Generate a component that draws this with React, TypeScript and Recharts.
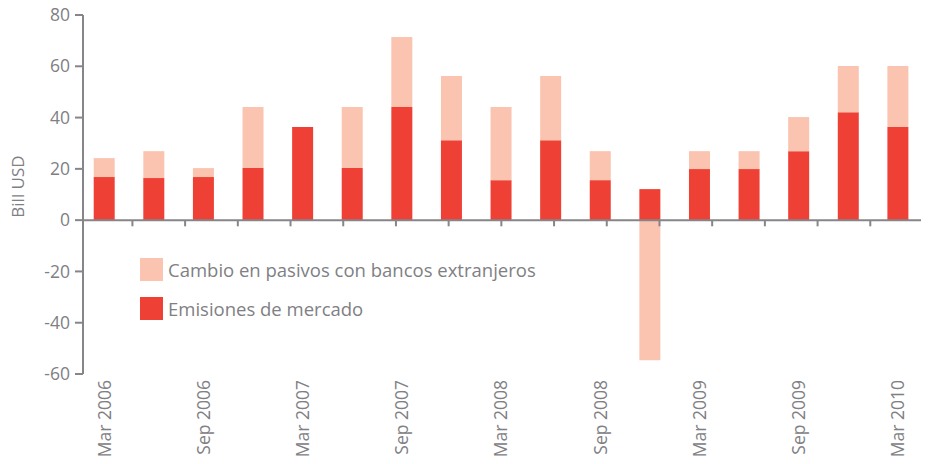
import React from 'react';
import { BarChart, Bar, XAxis, YAxis, ReferenceLine, Legend } from 'recharts';

const categories = [
  'Mar 2006', 'Jun 2006', 'Sep 2006', 'Dec 2006',
  'Mar 2007', 'Jun 2007', 'Sep 2007', 'Dec 2007',
  'Mar 2008', 'Jun 2008', 'Sep 2008', 'Dec 2008',
  'Mar 2009', 'Jun 2009', 'Sep 2009', 'Dec 2009',
  'Mar 2010',
];
const shownLabels = [
  'Mar 2006', 'Sep 2006', 'Mar 2007', 'Sep 2007', 'Mar 2008',
  'Sep 2008', 'Mar 2009', 'Sep 2009', 'Mar 2010',
];
const emisiones = [16.8, 16.4, 16.8, 20.3, 36.3, 20.3, 44.1, 31.2, 15.6, 31.2, 15.6, 12.1, 19.9, 19.9, 26.9, 42.1, 36.3];
const cambio = [7.4, 10.5, 3.5, 23.8, 0, 23.8, 27.3, 25.0, 28.5, 25.0, 11.3, -54.6, 7.0, 7.0, 13.3, 18.0, 23.8];
const yTicks = [-60, -40, -20, 0, 20, 40, 60, 80];
const seriesNames = ['Cambio en pasivos con bancos extranjeros', 'Emisiones de mercado'];

const RED = '#EE4035';
const PINK = '#FAC4B1';
const GREY = '#808084';
const AXIS = '#86868a';
const FONT = "'Open Sans', sans-serif";

const data = categories.map((c, i) => ({ cat: c, emisiones: emisiones[i], cambio: cambio[i] }));
const boundaries = categories.map((_, i) => i + 1);

const XTick = (props: any) => {
  const { x, y, payload } = props;
  if (!shownLabels.includes(payload.value)) return <g />;
  return (
    <text
      x={x}
      y={y}
      transform={`rotate(-90, ${x}, ${y})`}
      textAnchor="end"
      dy="0.35em"
      fill={GREY}
      fontSize={17.5}
      fontFamily={FONT}
    >
      {payload.value}
    </text>
  );
};

const LegendContent = (props: any) => {
  const payload = [...(props.payload || [])].sort(
    (a: any, b: any) => seriesNames.indexOf(a.value) - seriesNames.indexOf(b.value)
  );
  return (
    <div style={{ fontFamily: FONT }}>
      {payload.map((p: any) => (
        <div key={p.value} style={{ display: 'flex', alignItems: 'center', height: 23, marginBottom: 16 }}>
          <div style={{ width: 23, height: 23, background: p.color, marginRight: 5 }} />
          <span style={{ color: GREY, fontSize: 18.5, whiteSpace: 'nowrap' }}>{p.value}</span>
        </div>
      ))}
    </div>
  );
};

const YLabel = (props: any) => {
  const vb = props.viewBox || {};
  const x = (vb.x || 0) + 10;
  const y = (vb.y || 0) + (vb.height || 0) / 2 - 8;
  return (
    <text
      x={x}
      y={y}
      transform={`rotate(-90, ${x}, ${y})`}
      textAnchor="middle"
      dy="0.35em"
      fill={GREY}
      fontSize={17}
      fontFamily={FONT}
    >
      Bill USD
    </text>
  );
};

export default function App() {
  return (
    <BarChart
      width={921}
      height={448}
      data={data}
      stackOffset="sign"
      margin={{ top: 7, right: 6, bottom: 2, left: 0 }}
      style={{ fontFamily: FONT }}
    >
      <XAxis
        dataKey="cat"
        interval={0}
        tickLine={false}
        axisLine={false}
        tickSize={0}
        tickMargin={6}
        height={80}
        padding={{ left: -3.3, right: 0 }}
        tick={<XTick />}
      />
      <XAxis
        xAxisId="b"
        type="number"
        domain={[0, 17]}
        hide
        padding={{ left: -3.3, right: 0 }}
        allowDataOverflow
      />
      <YAxis
        domain={[-60, 80]}
        ticks={yTicks}
        interval={0}
        width={75}
        tickSize={8}
        tickMargin={5}
        axisLine={{ stroke: AXIS, strokeWidth: 2 }}
        tickLine={{ stroke: AXIS, strokeWidth: 2 }}
        tick={{ fill: GREY, fontSize: 17.5, fontFamily: FONT }}
        allowDataOverflow
        label={<YLabel />}
      />
      <Bar dataKey="emisiones" name="Emisiones de mercado" stackId="a" fill={RED} barSize={21} isAnimationActive={false} />
      <Bar dataKey="cambio" name="Cambio en pasivos con bancos extranjeros" stackId="a" fill={PINK} barSize={21} isAnimationActive={false} />
      <ReferenceLine y={0} stroke={AXIS} strokeWidth={2} />
      {boundaries.map((b) => (
        <ReferenceLine
          key={b}
          xAxisId="b"
          segment={[{ x: b, y: 0 }, { x: b, y: -2.4 }]}
          stroke={AXIS}
          strokeWidth={2}
          ifOverflow="visible"
        />
      ))}
      <Legend
        layout="vertical"
        align="center"
        verticalAlign="middle"
        content={<LegendContent />}
        wrapperStyle={{ position: 'absolute', left: 132, top: 250, width: 'auto', height: 'auto' }}
      />
    </BarChart>
  );
}
